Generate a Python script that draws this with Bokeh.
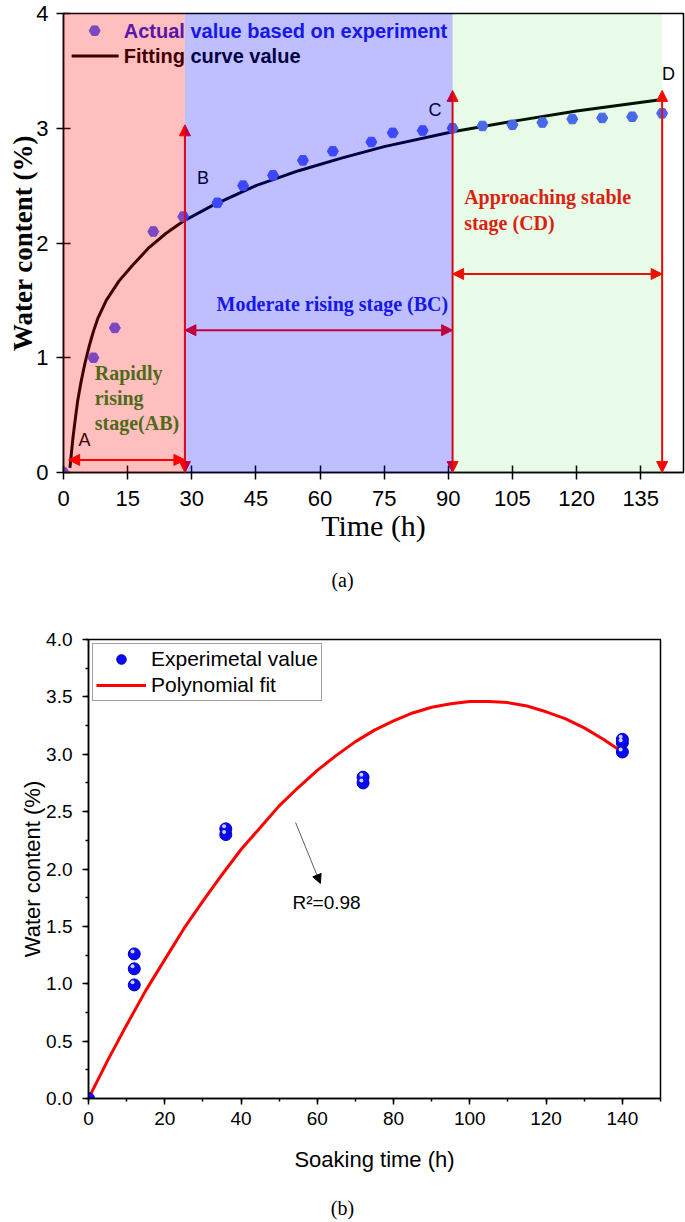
from bokeh.plotting import figure
from bokeh.models import (Range1d, SingleIntervalTicker, Arrow, NormalHead, Legend, LegendItem,
                          NumeralTickFormatter, Div, ColumnDataSource)
from bokeh.transform import dodge
from bokeh.core.properties import value
from bokeh.embed import file_html
from bokeh.resources import INLINE

SERIF = "Liberation Serif"
SANS = "Liberation Sans"

# ---------------- (a) data ----------------
time_a = [0, 7, 12, 21, 28, 36, 42, 49, 56, 63, 72, 77, 84, 91, 98, 105, 112, 119, 126, 133, 140]
wc_a = [0.0, 1.00, 1.26, 2.10, 2.23, 2.35, 2.50, 2.59, 2.72, 2.80, 2.88, 2.96, 2.98, 3.00,
        3.02, 3.03, 3.05, 3.08, 3.09, 3.10, 3.13]
fit_time_a = [1.5, 1.8, 2.2, 2.7, 3.3, 4, 4.5, 5, 6, 7, 8, 10, 13, 16, 20, 24, 28, 35, 45, 55,
              65, 75, 91, 105, 120, 140]
fit_wc_a = [0.04, 0.15, 0.30, 0.45, 0.62, 0.77, 0.86, 0.95, 1.10, 1.23, 1.34, 1.50, 1.67, 1.80,
            1.96, 2.085, 2.19, 2.33, 2.50, 2.63, 2.74, 2.84, 2.97, 3.06, 3.15, 3.25]
stage_edges = [0, 28.4, 91, 140]
stage_colors = ["#FF0000", "#0000FF", "#00C800"]
stage_alphas = [0.25, 0.25, 0.09]
point_labels = ["A", "B", "C", "D"]
legend_labels_a = ["Actual value based on experiment", "Fitting curve value"]

# ---------------- (b) data ----------------
time_b = [0, 12, 12, 12, 36, 36, 72, 72, 140, 140, 140]
wc_b = [0.0, 0.99, 1.13, 1.26, 2.30, 2.35, 2.75, 2.80, 3.02, 3.10, 3.13]
poly_time_b = [0, 5, 10, 15, 20, 25, 30, 35, 40, 45, 50, 55, 60, 65, 70, 75, 80, 85, 90, 95,
               100, 105, 110, 115, 120, 125, 130, 135, 140]
poly_wc_b = [0.0, 0.33, 0.64, 0.94, 1.21, 1.48, 1.72, 1.95, 2.17, 2.36, 2.55, 2.71, 2.86, 2.99,
             3.11, 3.21, 3.29, 3.36, 3.41, 3.44, 3.46, 3.46, 3.45, 3.42, 3.37, 3.31, 3.23,
             3.13, 3.02]


def style_axes(p, tick_font, tick_size, tin, tout, mtin, mtout):
    for ax in (p.xaxis[0], p.yaxis[0]):
        ax.axis_line_color = "black"
        ax.axis_line_width = 1.5
        ax.major_tick_line_color = "black"
        ax.major_tick_line_width = 1.5
        ax.minor_tick_line_color = "black"
        ax.minor_tick_line_width = 1.5
        ax.major_tick_in = tin
        ax.major_tick_out = tout
        ax.minor_tick_in = mtin
        ax.minor_tick_out = mtout
        ax.major_label_text_font = tick_font
        ax.major_label_text_font_size = tick_size
        ax.major_label_text_color = "black"
        ax.axis_label_text_color = "black"


# ======================= figure (a) =======================
pa = figure(width=685, height=552, x_range=Range1d(0, 145), y_range=Range1d(0, 4),
            output_backend="svg", toolbar_location=None,
            min_border_left=63, min_border_right=2, min_border_top=13, min_border_bottom=80)
pa.grid.visible = False
pa.outline_line_color = "black"
pa.outline_line_width = 1.5
pa.background_fill_color = "white"
pa.xaxis.ticker = SingleIntervalTicker(interval=15, num_minor_ticks=0)
pa.yaxis.ticker = SingleIntervalTicker(interval=1, num_minor_ticks=0)
style_axes(pa, SANS, "22px", 7, 7, 0, 0)
pa.xaxis.major_label_standoff = 11
pa.yaxis.major_label_standoff = 8
pa.xaxis.axis_label = "Time (h)"
pa.xaxis.axis_label_text_font = SERIF
pa.xaxis.axis_label_text_font_size = "30px"
pa.xaxis.axis_label_text_font_style = "normal"
pa.xaxis.axis_label_standoff = 0
pa.yaxis.axis_label = "Water content (%)"
pa.yaxis.axis_label_text_font = SERIF
pa.yaxis.axis_label_text_font_size = "27px"
pa.yaxis.axis_label_text_font_style = "bold"
pa.yaxis.axis_label_standoff = -5

# fitted curve and experimental points
pa.line(fit_time_a, fit_wc_a, line_color="black", line_width=3)
pa.scatter(time_a, wc_a, marker="hex", size=11, fill_color="#5060FF", line_color="#5060FF")

# manual legend (drawn under the coloured stage overlays)
pa.scatter([7.3], [3.85], marker="hex", size=11, fill_color="#5060FF", line_color="#5060FF")
pa.line([1.9, 12.9], [3.63, 3.63], line_color="black", line_width=3)
pa.text(x=[14.1, 14.1], y=[3.85, 3.63], text=legend_labels_a, text_color=["#2020E0", "black"],
        text_font=value(SANS), text_font_style="bold", text_font_size="20px",
        text_baseline="middle", text_align="left")

# point letters
pa.text(x=[4.9, 32.6, 86.9, 141.5], y=[0.28, 2.57, 3.16, 3.47], text=point_labels,
        text_color="black", text_font=value(SANS), text_font_size="18px",
        text_baseline="middle", text_align="center")

# stage descriptions
pa.text(x=[7.3, 7.3, 7.3], y=[0.867, 0.65, 0.434], text=["Rapidly", "rising", "stage(AB)"],
        text_color="#148C23", text_font=value(SERIF), text_font_style="bold", text_font_size="20px",
        text_baseline="middle", text_align="left")
pa.text(x=[35.8], y=[1.47], text=["Moderate rising stage (BC)"],
        text_color="#2020E0", text_font=value(SERIF), text_font_style="bold", text_font_size="20px",
        text_baseline="middle", text_align="left")
pa.text(x=[93.7, 93.7], y=[2.40, 2.17], text=["Approaching stable", "stage (CD)"],
        text_color="#F01010", text_font=value(SERIF), text_font_style="bold", text_font_size="20px",
        text_baseline="middle", text_align="left")


# red double-headed arrows
def red_arrow(x0, y0, x1, y1):
    pa.add_layout(Arrow(start=NormalHead(size=11, fill_color="#FF0000", line_color="#FF0000"),
                        end=NormalHead(size=11, fill_color="#FF0000", line_color="#FF0000"),
                        x_start=x0, y_start=y0, x_end=x1, y_end=y1,
                        line_color="#FF0000", line_width=2))


vert_tops = [3.03, 3.33, 3.33]
for xe, top in zip(stage_edges[1:], vert_tops):
    red_arrow(xe, 0.0, xe, top)
horiz_levels = [0.11, 1.24, 1.73]
starts = [1.2, stage_edges[1], stage_edges[2]]
for x0, x1, yl in zip(starts, stage_edges[1:], horiz_levels):
    red_arrow(x0, yl, x1, yl)

# translucent stage regions on top of everything
ov = pa.quad(left=stage_edges[:-1], right=stage_edges[1:], bottom=0, top=4,
             fill_color=stage_colors, fill_alpha=stage_alphas, line_color=None)
ov.level = "overlay"

# ======================= figure (b) =======================
pb = figure(width=685, height=570, x_range=Range1d(0, 150), y_range=Range1d(0, 4),
            output_backend="svg", toolbar_location=None,
            min_border_left=88, min_border_right=25, min_border_top=31, min_border_bottom=80)
pb.grid.visible = False
pb.outline_line_color = "black"
pb.outline_line_width = 1.5
pb.xaxis.ticker = SingleIntervalTicker(interval=20, num_minor_ticks=2)
pb.yaxis.ticker = SingleIntervalTicker(interval=0.5, num_minor_ticks=2)
pb.yaxis.formatter = NumeralTickFormatter(format="0.0")
style_axes(pb, SANS, "19px", 0, 6, 0, 3)
pb.xaxis.major_label_standoff = 7
pb.yaxis.major_label_standoff = 10
pb.xaxis.axis_label = "Soaking time (h)"
pb.yaxis.axis_label = "Water content (%)"
for ax in (pb.xaxis[0], pb.yaxis[0]):
    ax.axis_label_text_font = SANS
    ax.axis_label_text_font_size = "22px"
    ax.axis_label_text_font_style = "normal"
pb.xaxis.axis_label_standoff = 19
pb.yaxis.axis_label_standoff = -2

r_line = pb.line(poly_time_b, poly_wc_b, line_color="#FF0000", line_width=3)
src = ColumnDataSource(dict(x=time_b, y=wc_b))
r_pts = pb.scatter("x", "y", source=src, marker="circle", size=12,
                   fill_color="#0A0AF5", line_color="#0000C0", line_width=1)
r_hi = pb.scatter(x=dodge("x", -0.45, range=pb.x_range), y=dodge("y", 0.022, range=pb.y_range),
                  source=src, marker="circle", size=4, fill_color="white", fill_alpha=0.8,
                  line_color=None)

pb.add_layout(Arrow(end=NormalHead(size=9, fill_color="black", line_color="black"),
                    x_start=54.3, y_start=2.405, x_end=60.8, y_end=1.874,
                    line_color="#333333", line_width=0.8))
pb.text(x=[53.5], y=[1.71], text=["R\u00b2=0.98"], text_color="black",
        text_font=value(SANS), text_font_size="19px", text_baseline="middle", text_align="left")

leg = Legend(items=[LegendItem(label="Experimetal value", renderers=[r_pts]),
                    LegendItem(label="Polynomial fit", renderers=[r_line])],
             location="top_left")
leg.margin = 4
leg.padding = 3
leg.spacing = 2
leg.glyph_width = 50
leg.glyph_height = 24
leg.label_height = 24
leg.label_standoff = 5
leg.label_text_font = SANS
leg.label_text_font_size = "21px"
leg.label_text_color = "black"
leg.border_line_color = "#444444"
leg.border_line_width = 1
leg.background_fill_alpha = 1
pb.add_layout(leg)

# ======================= captions & page =======================
div_a = Div(text='<div style="width:685px;text-align:center;font-family:\'Liberation Serif\';'
                 'font-size:20px;line-height:56px;color:black;">(a)</div>',
            width=685, height=56, margin=0)
div_b = Div(text='<div style="width:685px;text-align:center;font-family:\'Liberation Serif\';'
                 'font-size:20px;padding-top:18px;line-height:24px;color:black;">(b)</div>',
            width=685, height=42, margin=0)

open("out.html", "w").write(file_html([pa, div_a, pb, div_b], INLINE, title="Water content"))
